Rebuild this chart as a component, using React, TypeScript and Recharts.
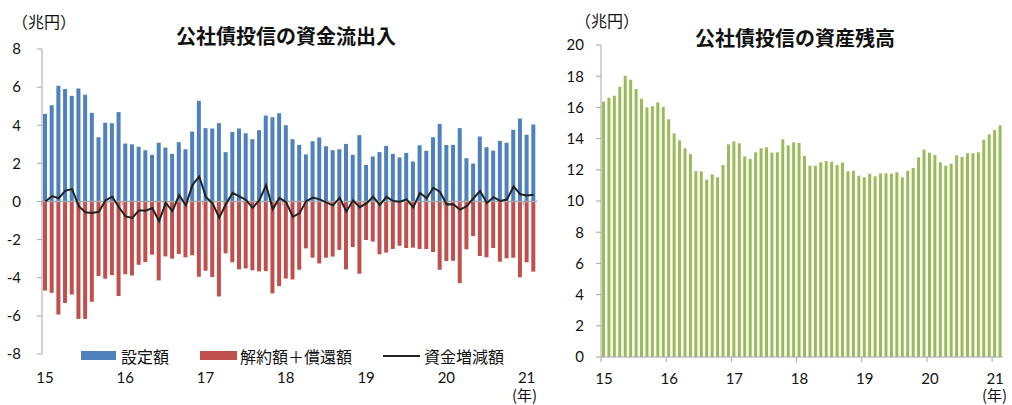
import { ComposedChart, Bar, Line, XAxis, YAxis, ReferenceLine } from 'recharts';

// 2015/01 - 2021/02, monthly (兆円)
const months: string[] = [];
for (let y = 2015; y <= 2021; y++) {
    for (let m = 1; m <= 12; m++) {
        if (y === 2021 && m > 2) break;
        months.push(`${y}/${m}`);
    }
}

const yearLabels = ['15', '16', '17', '18', '19', '20', '21'];
const yearTicks = [0, 12, 24, 36, 48, 60, 72];

// 設定額
const subscriptions = [
    4.6, 5.05, 6.07, 5.9, 5.54, 5.93, 5.6, 4.65, 3.37, 4.13, 4.11, 4.69,
    3.04, 3.0, 2.87, 2.69, 2.45, 3.08, 2.83, 2.5, 3.11, 2.74, 3.67, 5.28,
    3.85, 3.83, 4.11, 2.59, 3.65, 3.83, 3.58, 3.27, 3.74, 4.51, 4.42, 4.63,
    4.0, 3.27, 2.97, 2.47, 3.16, 3.36, 2.9, 2.69, 2.74, 3.02, 2.45, 3.48,
    1.92, 2.36, 2.59, 2.92, 2.5, 2.31, 2.55, 2.1, 2.95, 2.66, 3.37, 4.07,
    2.97, 2.97, 3.85, 2.27, 1.99, 3.41, 2.85, 2.67, 3.18, 3.08, 3.76, 4.35,
    3.5, 4.04,
];

// 解約額＋償還額
const redemptions = [
    -4.67, -4.79, -5.93, -5.32, -4.88, -6.16, -6.16, -5.26, -3.91, -4.05, -3.86, -4.96,
    -3.82, -3.88, -3.32, -3.18, -2.79, -4.14, -2.88, -3.0, -2.75, -2.93, -2.82, -3.95,
    -3.63, -3.96, -4.98, -2.72, -3.19, -3.56, -3.51, -3.61, -3.67, -3.65, -4.82, -4.44,
    -4.04, -4.09, -3.58, -2.46, -2.95, -3.25, -2.95, -2.89, -2.54, -3.56, -2.39, -3.79,
    -2.02, -2.1, -2.77, -2.68, -2.49, -2.32, -2.44, -2.42, -2.49, -2.49, -2.65, -3.58,
    -3.12, -3.11, -4.28, -2.51, -1.82, -2.86, -2.93, -2.44, -3.16, -2.98, -2.95, -3.98,
    -3.19, -3.68,
];

// 資金増減額
const netFlow = [
    0, 0.28, 0.17, 0.57, 0.65, -0.25, -0.56, -0.6, -0.54, 0.06, 0.25, -0.3,
    -0.78, -0.86, -0.46, -0.48, -0.34, -1.04, -0.07, -0.5, 0.34, -0.19, 0.87, 1.31,
    0.24, -0.1, -0.85, -0.13, 0.45, 0.27, 0.08, -0.33, 0.07, 0.86, -0.4, 0.19,
    -0.03, -0.81, -0.61, 0.02, 0.21, 0.11, -0.05, -0.2, 0.2, -0.53, 0.06, -0.3,
    -0.1, 0.25, -0.18, 0.24, 0.02, -0.01, 0.11, -0.31, 0.46, 0.17, 0.72, 0.5,
    -0.15, -0.14, -0.43, -0.24, 0.17, 0.55, -0.08, 0.23, 0.03, 0.1, 0.79, 0.38,
    0.31, 0.35,
];

// 資産残高
const assets = [
    16.37, 16.62, 16.75, 17.33, 18.01, 17.78, 17.18, 16.56, 16.0, 16.07, 16.32, 16.03,
    15.24, 14.34, 13.89, 13.38, 13.01, 11.92, 11.9, 11.37, 11.71, 11.52, 12.31, 13.63,
    13.82, 13.7, 12.86, 12.69, 13.12, 13.38, 13.44, 13.1, 13.12, 13.95, 13.57, 13.76,
    13.72, 12.88, 12.26, 12.26, 12.48, 12.56, 12.52, 12.31, 12.46, 11.9, 11.94, 11.62,
    11.52, 11.75, 11.58, 11.77, 11.77, 11.75, 11.84, 11.52, 11.94, 12.12, 12.8, 13.29,
    13.1, 12.95, 12.48, 12.26, 12.39, 12.93, 12.82, 13.06, 13.06, 13.12, 13.93, 14.27,
    14.55, 14.85,
];

const flowData = months.map((m, i) => ({
    month: m,
    x: i + 0.5,
    sub: subscriptions[i],
    red: redemptions[i],
    net: netFlow[i],
}));

const assetData = months.map((m, i) => ({ month: m, x: i + 0.5, assets: assets[i] }));

const BLUE = '#4F81BD';
const RED = '#C0504D';
const GREEN = '#9BBB59';
const GRID = '#a6a6a6';
const JP = '"Noto Sans CJK JP", "Noto Sans", sans-serif';
const NUM = 'Lato, "Noto Sans", sans-serif';

const tickStyle = { fontSize: 15, fill: '#111', fontFamily: NUM };
const yearFmt = (v: number) => yearLabels[yearTicks.indexOf(v)] ?? '';

const abs = (left: number, top: number, extra: any = {}) => ({
    position: 'absolute' as const,
    left,
    top,
    lineHeight: 1,
    whiteSpace: 'nowrap' as const,
    fontFamily: JP,
    color: '#111',
    ...extra,
});

const App = () => {
    return (
        <div style={{ position: 'absolute', left: 0, top: 0, width: 1012, height: 405, background: '#fff', overflow: 'hidden' }}>
            <div style={{ position: 'absolute', left: 0, top: 0 }}>
                <ComposedChart width={550} height={405} data={flowData} stackOffset="sign"
                    margin={{ top: 49, right: 13, bottom: 21, left: 0 }}>
                    <XAxis type="number" dataKey="x" domain={[0, 74]} ticks={yearTicks} interval={0}
                        tickFormatter={yearFmt} axisLine={false} tickLine={false} tickSize={0} tickMargin={18}
                        height={30} tick={{ ...tickStyle, dx: 3 }} />
                    <YAxis domain={[-8, 8]} ticks={[-8, -6, -4, -2, 0, 2, 4, 6, 8]} interval={0} width={42}
                        axisLine={{ stroke: GRID }} tickLine={{ stroke: GRID }} tickSize={5} tickMargin={16}
                        tick={tickStyle} />
                    <Bar dataKey="sub" stackId="s" fill={BLUE} barSize={4} isAnimationActive={false} />
                    <Bar dataKey="red" stackId="s" fill={RED} barSize={4} isAnimationActive={false} />
                    <ReferenceLine y={0} stroke={GRID} strokeWidth={1.5} />
                    {yearTicks.map(t => (
                        <ReferenceLine key={t} segment={[{ x: t, y: 0 }, { x: t, y: -0.22 }]} stroke={GRID} />
                    ))}
                    <Line dataKey="net" type="linear" stroke="#222" strokeWidth={2} dot={false} isAnimationActive={false} />
                </ComposedChart>
            </div>

            <div style={{ position: 'absolute', left: 560, top: 0 }}>
                <ComposedChart width={452} height={405} data={assetData}
                    margin={{ top: 45, right: 9, bottom: 18, left: 0 }}>
                    <XAxis type="number" dataKey="x" domain={[0, 74]} ticks={yearTicks} interval={0}
                        tickFormatter={yearFmt} axisLine={{ stroke: GRID }} tickLine={{ stroke: GRID }}
                        tickSize={5} tickMargin={11} height={30} tick={{ ...tickStyle, dx: 3 }} />
                    <YAxis domain={[0, 20]} ticks={[0, 2, 4, 6, 8, 10, 12, 14, 16, 18, 20]} interval={0} width={41}
                        axisLine={{ stroke: GRID }} tickLine={{ stroke: GRID }} tickSize={5} tickMargin={12}
                        tick={tickStyle} />
                    <Bar dataKey="assets" fill={GREEN} barSize={3} isAnimationActive={false} />
                </ComposedChart>
            </div>

            {/* titles and unit labels */}
            <div style={abs(176, 26, { fontSize: 20, fontWeight: 700 })}>公社債投信の資金流出入</div>
            <div style={abs(695, 28, { fontSize: 20, fontWeight: 700 })}>公社債投信の資産残高</div>
            <div style={abs(12, 13, { fontSize: 16 })}>（兆円）</div>
            <div style={abs(575, 12, { fontSize: 16 })}>（兆円）</div>
            <div style={abs(512, 387, { fontSize: 15 })}>(年)</div>
            <div style={abs(982, 387, { fontSize: 15 })}>(年)</div>

            {/* legend */}
            <div style={{ position: 'absolute', left: 81, top: 347, height: 17, display: 'flex', alignItems: 'center', fontFamily: JP, fontSize: 16, color: '#111', whiteSpace: 'nowrap' }}>
                <span style={{ display: 'inline-block', width: 35, height: 9, background: BLUE, marginRight: 5 }} />
                <span style={{ marginRight: 31 }}>設定額</span>
                <span style={{ display: 'inline-block', width: 37, height: 9, background: RED, marginRight: 3 }} />
                <span style={{ marginRight: 31 }}>解約額＋償還額</span>
                <span style={{ display: 'inline-block', width: 37, height: 2, background: '#222', marginRight: 4 }} />
                <span>資金増減額</span>
            </div>
        </div>
    );
};

export default App;
